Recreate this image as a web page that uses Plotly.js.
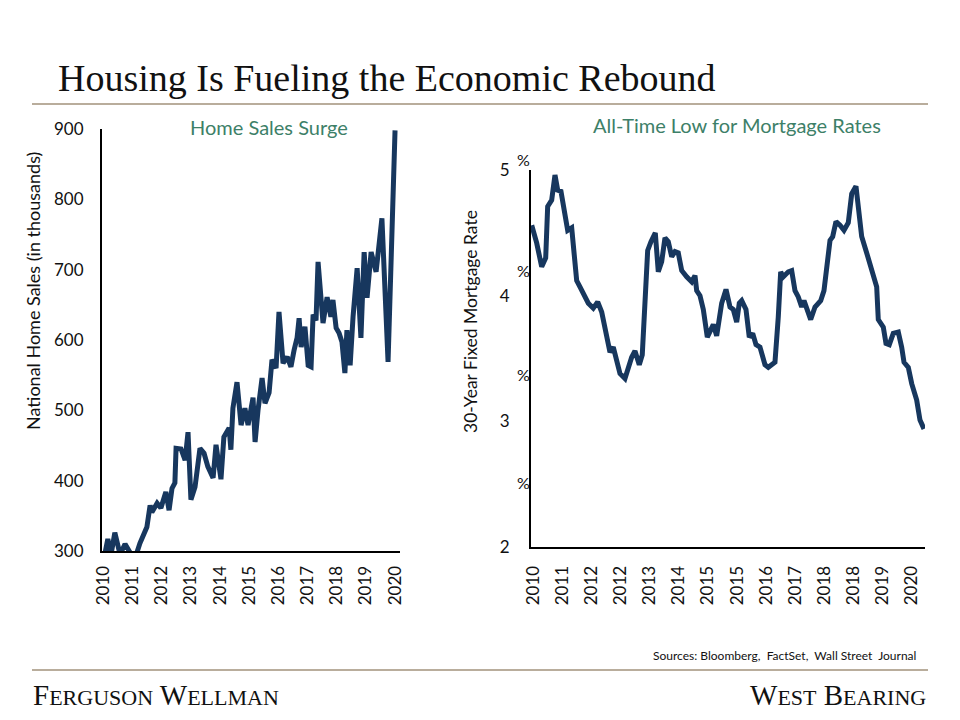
<!DOCTYPE html>
<html>
<head>
<meta charset="utf-8">
<script src="https://cdn.plot.ly/plotly-3.0.1.min.js"></script>
<style>
  html, body { margin: 0; padding: 0; background: #ffffff; }
  #chart { width: 960px; height: 720px; }
</style>
</head>
<body>
<div id="chart"></div>
<script>
// ---- Left chart: National home sales (thousands), x in decimal years ----
var salesYears = [2010.02, 2010.15, 2010.26, 2010.39, 2010.57, 2010.74, 2010.91, 2011.11, 2011.25, 2011.42,
  2011.49, 2011.60, 2011.66, 2011.84, 2011.97, 2012.14, 2012.25, 2012.35, 2012.45, 2012.49,
  2012.66, 2012.80, 2012.90, 2013.00, 2013.14, 2013.31, 2013.45, 2013.58, 2013.76, 2013.86,
  2014.03, 2014.13, 2014.31, 2014.37, 2014.44, 2014.58, 2014.72, 2014.85, 2014.96, 2015.13,
  2015.20, 2015.30, 2015.44, 2015.54, 2015.68, 2015.78, 2015.92, 2016.02, 2016.16, 2016.30,
  2016.43, 2016.54, 2016.64, 2016.71, 2016.78, 2016.91, 2017.02, 2017.12, 2017.19, 2017.29,
  2017.36, 2017.53, 2017.67, 2017.80, 2017.87, 2017.98, 2018.08, 2018.18, 2018.28, 2018.35,
  2018.46, 2018.56, 2018.70, 2018.83, 2018.94, 2019.04, 2019.18, 2019.35, 2019.55, 2019.76,
  2020.00];
var salesValues = [290, 317, 295, 326, 295, 310, 298, 293, 311, 330,
  334, 365, 355, 368, 361, 384, 358, 389, 397, 446,
  445, 429, 469, 373, 391, 446, 439, 420, 404, 451,
  402, 462, 475, 444, 503, 540, 479, 503, 479, 518,
  455, 500, 546, 510, 525, 572, 560, 640, 567, 576,
  562, 586, 603, 631, 590, 619, 564, 562, 636, 628,
  711, 624, 661, 633, 657, 617, 610, 597, 553, 614,
  564, 633, 702, 603, 725, 660, 725, 697, 773, 569,
  898];
var salesTickLabels = ['2010','2011','2012','2013','2014','2015','2016','2017','2018','2019','2020'];

// ---- Right chart: 30-year fixed mortgage rate (%), x in decimal years ----
var rateYears = [2010.467, 2010.595, 2010.724, 2010.827, 2010.878, 2010.981, 2011.066, 2011.136, 2011.220, 2011.323,
  2011.393, 2011.496, 2011.624, 2011.709, 2011.820, 2011.923, 2012.051, 2012.165, 2012.268, 2012.396,
  2012.481, 2012.566, 2012.654, 2012.738, 2012.867, 2013.039, 2013.124, 2013.235, 2013.312, 2013.382,
  2013.451, 2013.536, 2013.647, 2013.724, 2013.811, 2013.896, 2013.981, 2014.069, 2014.154, 2014.238,
  2014.326, 2014.455, 2014.583, 2014.668, 2014.712, 2014.797, 2014.882, 2014.985, 2015.054, 2015.139,
  2015.226, 2015.355, 2015.466, 2015.569, 2015.654, 2015.741, 2015.808, 2015.870, 2015.980, 2016.065,
  2016.153, 2016.238, 2016.340, 2016.469, 2016.554, 2016.726, 2016.811, 2016.873, 2016.940, 2017.069,
  2017.156, 2017.241, 2017.326, 2017.413, 2017.473, 2017.542, 2017.645, 2017.756, 2017.902, 2017.987,
  2018.057, 2018.142, 2018.211, 2018.296, 2018.399, 2018.502, 2018.612, 2018.700, 2018.810, 2018.870,
  2018.957, 2019.086, 2019.214, 2019.343, 2019.384, 2019.513, 2019.582, 2019.667, 2019.770, 2019.899,
  2019.986, 2020.046, 2020.156, 2020.244, 2020.372, 2020.457, 2020.560];
var rateValues = [4.56, 4.42, 4.23, 4.30, 4.71, 4.76, 4.96, 4.84, 4.83, 4.62,
  4.52, 4.54, 4.12, 4.07, 3.99, 3.94, 3.90, 3.95, 3.87, 3.67,
  3.55, 3.59, 3.49, 3.38, 3.34, 3.51, 3.56, 3.45, 3.53, 4.02,
  4.36, 4.43, 4.50, 4.19, 4.27, 4.46, 4.43, 4.31, 4.35, 4.34,
  4.20, 4.15, 4.11, 4.16, 4.04, 4.00, 3.89, 3.67, 3.71, 3.77,
  3.68, 3.94, 4.05, 3.91, 3.89, 3.79, 3.94, 3.96, 3.89, 3.67,
  3.70, 3.61, 3.59, 3.45, 3.43, 3.47, 3.83, 4.19, 4.15, 4.19,
  4.20, 4.04, 3.99, 3.91, 3.96, 3.91, 3.81, 3.91, 3.96, 4.04,
  4.26, 4.44, 4.47, 4.59, 4.56, 4.52, 4.58, 4.81, 4.87, 4.73,
  4.47, 4.34, 4.20, 4.07, 3.81, 3.75, 3.62, 3.61, 3.70, 3.71,
  3.59, 3.47, 3.43, 3.30, 3.17, 3.01, 2.94];
var rateTickYears = [2010.5, 2011.25, 2012.0, 2012.75, 2013.5, 2014.25, 2015.0, 2015.75, 2016.5, 2017.25, 2018.0, 2018.75, 2019.5, 2020.25];
var rateTickLabels = ['2010','2011','2012','2012','2013','2014','2015','2015','2016','2017','2018','2018','2019','2020'];
var rateTickVals = [2, 3, 4, 5];
var percentMarks = [5.08, 4.20, 3.37, 2.51];

// ---- Texts ----
var mainTitle = 'Housing Is Fueling the Economic Rebound';
var leftSubtitle = 'Home Sales Surge';
var rightSubtitle = 'All-Time Low for Mortgage Rates';
var leftYTitle = 'National Home Sales (in thousands)';
var rightYTitle = '30-Year Fixed Mortgage Rate';
var sourceText = 'Sources: Bloomberg,  FactSet,  Wall Street  Journal';

var W = 960, H = 720;
function px(x) { return x / W; }
function py(y) { return (H - y) / H; }

var NAVY = '#17375e';
var GREEN = '#3d8068';
var RULE = '#b9ad9c';
var SANS = 'Lato, "Open Sans", sans-serif';
var SERIF = '"Liberation Serif", "DejaVu Serif", serif';

// right y axis domain (paper), used to place the stray "%" marks
var y2Dom = [py(547), py(170)];
var y2Range = [2, 5];
function y2paper(v) { return y2Dom[0] + (v - y2Range[0]) / (y2Range[1] - y2Range[0]) * (y2Dom[1] - y2Dom[0]); }

var data = [
  { x: salesYears, y: salesValues, type: 'scatter', mode: 'lines',
    line: { color: NAVY, width: 5 }, xaxis: 'x', yaxis: 'y', hoverinfo: 'skip' },
  { x: rateYears, y: rateValues, type: 'scatter', mode: 'lines',
    line: { color: NAVY, width: 5 }, xaxis: 'x2', yaxis: 'y2', hoverinfo: 'skip' }
];

var tickFont = { family: SANS, size: 17, color: '#111111' };

var layout = {
  width: W, height: H,
  margin: { l: 0, r: 0, t: 0, b: 0 },
  paper_bgcolor: '#ffffff', plot_bgcolor: '#ffffff',
  showlegend: false,
  title: { text: mainTitle, font: { family: SERIF, size: 38, color: '#111111' },
           x: px(58), xanchor: 'left', y: py(78), yanchor: 'middle', xref: 'paper', yref: 'paper' },
  xaxis: {
    domain: [px(102), px(400)], anchor: 'y',
    range: [2009.95, 2020.17],
    tickmode: 'array', tickvals: [2010, 2011, 2012, 2013, 2014, 2015, 2016, 2017, 2018, 2019, 2020],
    ticktext: salesTickLabels, tickangle: -90, tickfont: tickFont,
    showgrid: false, zeroline: false, showline: true, linecolor: '#000000', linewidth: 2,
    ticks: '', ticklabelstandoff: 6
  },
  yaxis: {
    domain: [py(551), py(129)], anchor: 'x',
    range: [300, 900], tickmode: 'array', tickvals: [300, 400, 500, 600, 700, 800, 900],
    tickfont: tickFont, showgrid: false, zeroline: false, showline: true, linecolor: '#000000', linewidth: 2,
    ticks: '', ticklabelstandoff: 13
  },
  xaxis2: {
    domain: [px(531), px(925)], anchor: 'y2',
    range: [2010.449, 2020.586],
    tickmode: 'array', tickvals: rateTickYears, ticktext: rateTickLabels,
    tickangle: -90, tickfont: tickFont,
    showgrid: false, zeroline: false, showline: true, linecolor: '#000000', linewidth: 2,
    ticks: '', ticklabelstandoff: 10
  },
  yaxis2: {
    domain: y2Dom, anchor: 'x2',
    range: y2Range, tickmode: 'array', tickvals: rateTickVals,
    tickfont: tickFont, showgrid: false, zeroline: false, showline: true, linecolor: '#000000', linewidth: 2,
    ticks: '', ticklabelstandoff: 16
  },
  shapes: [
    { type: 'line', xref: 'paper', yref: 'paper', x0: px(32), x1: px(928), y0: py(104), y1: py(104),
      line: { color: RULE, width: 2 } },
    { type: 'line', xref: 'paper', yref: 'paper', x0: px(32), x1: px(928), y0: py(670), y1: py(670),
      line: { color: RULE, width: 2 } }
  ],
  annotations: [
    { text: leftYTitle, xref: 'paper', yref: 'paper', x: px(33), y: py(291), xanchor: 'center', yanchor: 'middle',
      textangle: -90, showarrow: false, font: { family: SANS, size: 18, color: '#111111' } },
    { text: rightYTitle, xref: 'paper', yref: 'paper', x: px(470), y: py(322), xanchor: 'center', yanchor: 'middle',
      textangle: -90, showarrow: false, font: { family: SANS, size: 17.5, color: '#111111' } },
    { text: leftSubtitle, xref: 'paper', yref: 'paper', x: px(269), y: py(127), xanchor: 'center', yanchor: 'middle',
      showarrow: false, font: { family: SANS, size: 20, color: GREEN } },
    { text: rightSubtitle, xref: 'paper', yref: 'paper', x: px(737), y: py(125), xanchor: 'center', yanchor: 'middle',
      showarrow: false, font: { family: SANS, size: 20, color: GREEN } },
    { text: sourceText, xref: 'paper', yref: 'paper', x: px(918), y: py(655), xanchor: 'right', yanchor: 'middle',
      showarrow: false, font: { family: SANS, size: 12, color: '#111111' } },
    { text: 'F<span style="font-size:22px">ERGUSON</span> W<span style="font-size:22px">ELLMAN</span>',
      xref: 'paper', yref: 'paper', x: px(31), y: py(695), xanchor: 'left', yanchor: 'middle',
      showarrow: false, font: { family: SERIF, size: 29, color: '#111111' } },
    { text: 'W<span style="font-size:22px">EST</span> B<span style="font-size:22px">EARING</span>',
      xref: 'paper', yref: 'paper', x: px(928), y: py(695), xanchor: 'right', yanchor: 'middle',
      showarrow: false, font: { family: SERIF, size: 29, color: '#111111' } }
  ]
};

percentMarks.forEach(function (v) {
  layout.annotations.push({ text: '%', xref: 'paper', yref: 'paper', x: px(523), y: y2paper(v),
    xanchor: 'center', yanchor: 'middle', showarrow: false, font: { family: SANS, size: 16, color: '#111111' } });
});

Plotly.newPlot('chart', data, layout, { staticPlot: true, displayModeBar: false });
</script>
</body>
</html>
